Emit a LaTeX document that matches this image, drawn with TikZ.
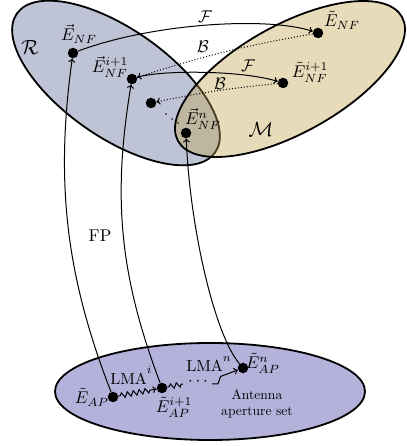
\RequirePackage{fix-cm}
\documentclass[tikz,border=0pt]{standalone}
\usetikzlibrary{arrows.meta,decorations.pathmorphing}
\definecolor{setR}{RGB}{190,196,213}
\definecolor{setM}{RGB}{192,160,73}
\definecolor{setA}{RGB}{180,177,219}
\begin{document}
\begin{tikzpicture}[x=1pt,y=1pt,
  dot/.style={circle,fill=black,inner sep=0pt,minimum size=10.5pt},
  lbl/.style={inner sep=0pt,font=\normalsize,scale=1.7},
  lmatext/.style={inner sep=0pt,font=\normalsize,scale=1.6,anchor=base west},
  smalltext/.style={inner sep=0pt,font=\normalsize,scale=1.36,align=center},
  bigtext/.style={inner sep=0pt,font=\normalsize,scale=2.05},
  setline/.style={line width=1.8pt},
  conn/.style={line width=1pt,-{To[length=4pt,width=7pt]}},
  back/.style={line width=1pt,dotted,-{To[length=4pt,width=7pt]}},
  zz/.style={line width=1pt,decorate,decoration={zigzag,segment length=6pt,amplitude=2.5pt,pre length=2pt,post length=6pt}},
  tinydot/.style={circle,fill=black,inner sep=0pt,minimum size=1.6pt}
]
\useasboundingbox (0,0) rectangle (406,446);
% sets
\fill[setR,rotate around={-35:(116,363)}] (116,363) ellipse (121 and 54);
\draw[setline,rotate around={-35:(116,363)}] (116,363) ellipse (121 and 54);
\fill[setM,fill opacity=0.38,rotate around={29:(290,367)}] (290,367) ellipse (128 and 54);
\draw[setline,rotate around={29:(290,367)}] (290,367) ellipse (128 and 54);
\filldraw[setline,fill=setA] (210,54.5) ellipse (155 and 48.5);

% points
\node[dot] (enf1) at (73,393) {};
\node[dot] (enf2) at (132,367) {};
\node[dot] (enf3) at (151,343) {};
\node[dot] (enfn) at (186,313) {};
\node[dot] (tenf) at (318,413) {};
\node[dot] (tenf2) at (283,363) {};
\node[dot] (eap) at (113,49) {};
\node[dot] (eap2) at (162,58) {};
\node[dot] (eapn) at (243,78) {};
\node[tinydot] (d1) at (166,332) {};
\node[tinydot] (d2) at (172,327) {};
\node[tinydot] (d3) at (178,323) {};

% labels
\node[lbl] (lenf1) at (79,412) {$\vec{E}_{NF}$};
\node[lbl] (lenf2) at (110,379) {$\vec{E}_{NF}^{i+1}$};
\node[lbl] (lenfn) at (203,327) {$\vec{E}_{NF}^{n}$};
\node[lbl] (ltenf) at (342,426) {$\tilde{E}_{NF}$};
\node[lbl] (ltenf2) at (310,374) {$\tilde{E}_{NF}^{i+1}$};
\node[lbl] (leap) at (92,49) {$\tilde{E}_{AP}$};
\node[lbl] (leap2) at (174,39) {$\tilde{E}_{AP}^{i+1}$};
\node[lbl] (leapn) at (263,83) {$\tilde{E}_{AP}^{n}$};
\node[bigtext] (lR) at (30,398) {$\mathcal{R}$};
\node[bigtext] (lM) at (261,316) {$\mathcal{M}$};
\node[lbl] (lFP) at (100,210) {FP};
\node[smalltext] (lant) at (257,42) {Antenna\\aperture set};

% forward / backward maps
\draw[conn] (enf1) .. controls (150,422) and (265,430) .. (tenf);
\draw[back] (tenf) to[bend right=4] (enf2);
\draw[conn] (enf2) .. controls (160,376) and (240,376) .. (tenf2);
\draw[back] (tenf2) to[bend right=3] (enf3);
\node[lbl] (lF1) at (205,429) {$\mathcal{F}$};
\node[lbl] (lB1) at (203,399) {$\mathcal{B}$};
\node[lbl] (lF2) at (248,380) {$\mathcal{F}$};
\node[lbl] (lB2) at (220,362) {$\mathcal{B}$};

% FP maps
\draw[conn] (eap) .. controls (66,170) and (55,263) .. (enf1);
\draw[conn] (eap2) .. controls (120,170) and (112,247) .. (enf2);
\draw[conn] (eapn) .. controls (215,111) and (190,216) .. (enfn);

% LMA steps
\draw[zz,-{To[length=4pt,width=7pt]}] (eap) -- (eap2);
\coordinate (z1) at (183,62);
\coordinate (z2) at (212,62);
\draw[line width=1pt,decorate,decoration={zigzag,segment length=6pt,amplitude=2.5pt,pre length=2pt,post length=1pt}] (eap2) -- (z1);
\node[lbl] (ldots) at (198,64) {$\cdots$};
\draw[conn] (z2) -- ++(6,0) -- ++(2.5,7.5) -- (eapn);
\node[lmatext] (lLMAi) at (110,61.5) {LMA\raisebox{7pt}{$\scriptstyle i$}};
\node[lmatext] (lLMAn) at (186,74.5) {LMA\raisebox{6pt}{$\scriptstyle n$}};
\end{tikzpicture}
\end{document}
